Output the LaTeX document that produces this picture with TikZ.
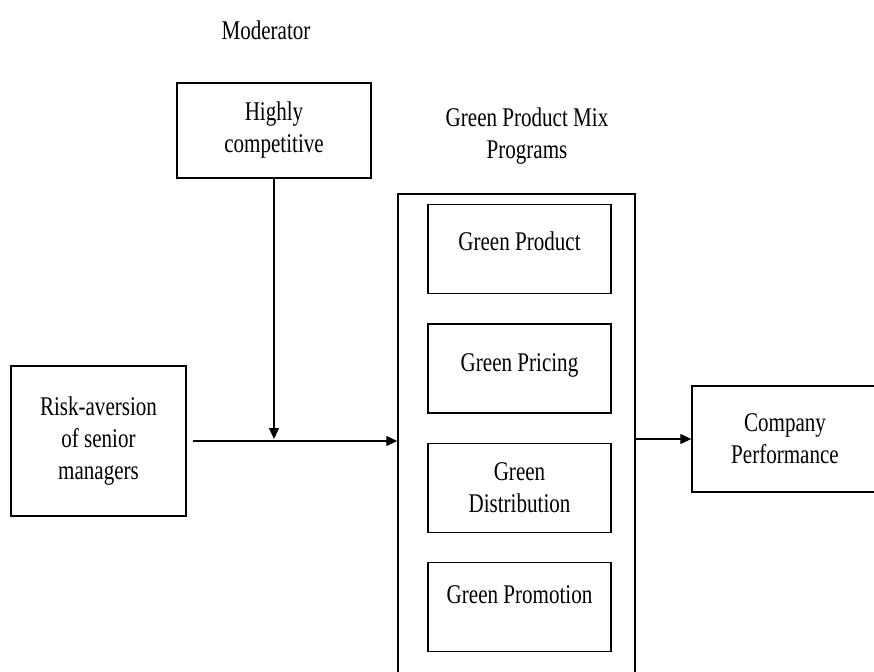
\documentclass[tikz,border=0pt]{standalone}
\usepackage{fontspec}
\setmainfont{Liberation Serif}[FakeStretch=0.78]
\usetikzlibrary{arrows.meta,positioning}

\begin{document}
\begin{tikzpicture}[x=1pt,y=-1pt,->,>={Triangle[length=11pt,width=10pt]},
                    line width=1.2pt,node distance=29pt,
                    font=\fontsize{27}{32}\selectfont,
                    box/.style={draw,line width=1.4pt,align=center,inner sep=0pt},
                    mix item/.style={box,minimum width=183pt,minimum height=89pt}]

    \clip (0,0) rectangle (874,671);

    \node (mod) at (266,30) {Moderator};
    \node[box,minimum width=194pt,minimum height=95pt] (comp) at (274,130.5) {Highly\\competitive};
    \node[align=center] (mixlabel) at (527,136) {Green Product Mix\\Programs};

    % outer box runs off the bottom of the page
    \node[box,minimum width=237pt,minimum height=520pt] (mix) at (516.5,454) {};
    \node[mix item,text depth=16pt] (gprod) at (519.5,249) {Green Product};
    \node[mix item,text depth=12pt] (gprice) [below=of gprod] {Green Pricing};
    \node[mix item] (gdist) [below=of gprice] {Green\\Distribution};
    \node[mix item,text depth=26pt] (gpromo) [below=of gdist] {Green Promotion};

    \node[box,minimum width=175pt,minimum height=150pt] (risk) at (98.5,441) {Risk-aversion\\of senior\\managers};
    \node[box,minimum width=186pt,minimum height=106pt] (perf) at (785,439) {Company\\Performance};

    \coordinate (join) at (comp.south |- risk.east);

    \draw[shorten <=6pt] (risk) -- (risk -| mix.west);
    \draw[shorten >=2pt] (comp) -- (join);
    \draw (perf.west -| mix.east) -- (perf);
\end{tikzpicture}
\end{document}
